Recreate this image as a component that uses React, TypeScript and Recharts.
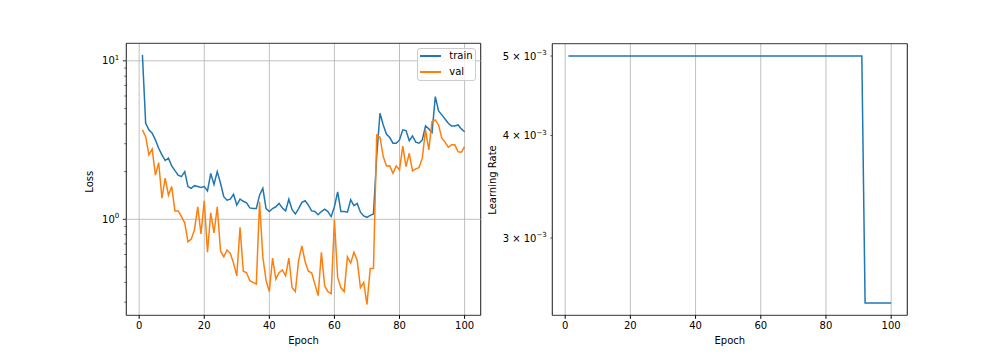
import React from 'react';
import {
  LineChart,
  Line,
  XAxis,
  YAxis,
  CartesianGrid,
  ReferenceLine,
  ReferenceArea,
  Legend,
} from 'recharts';

const epochs = [
  1, 2, 3, 4, 5, 6, 7, 8, 9, 10, 11, 12, 13, 14, 15, 16, 17, 18, 19, 20,
  21, 22, 23, 24, 25, 26, 27, 28, 29, 30, 31, 32, 33, 34, 35, 36, 37, 38, 39, 40,
  41, 42, 43, 44, 45, 46, 47, 48, 49, 50, 51, 52, 53, 54, 55, 56, 57, 58, 59, 60,
  61, 62, 63, 64, 65, 66, 67, 68, 69, 70, 71, 72, 73, 74, 75, 76, 77, 78, 79, 80,
  81, 82, 83, 84, 85, 86, 87, 88, 89, 90, 91, 92, 93, 94, 95, 96, 97, 98, 99, 100,
];

const trainLoss = [
  10.9, 4.04, 3.67, 3.49, 3.17, 2.81, 2.55, 2.35, 2.43, 2.17,
  2.03, 1.9, 1.86, 2.0, 1.61, 1.57, 1.63, 1.61, 1.59, 1.61,
  1.51, 1.95, 1.66, 2.0, 1.69, 1.39, 1.32, 1.34, 1.44, 1.23,
  1.34, 1.3, 1.27, 1.18, 1.17, 1.17, 1.42, 1.57, 1.17, 1.12,
  1.17, 1.2, 1.26, 1.18, 1.13, 1.34, 1.15, 1.08, 1.17, 1.28,
  1.31, 1.23, 1.13, 1.12, 1.07, 1.12, 1.16, 1.12, 1.04, 1.2,
  1.49, 1.12, 1.12, 1.11, 1.33, 1.22, 1.26, 1.11, 1.05, 1.03,
  1.06, 1.08, 2.5, 4.67, 3.94, 3.44, 3.28, 3.02, 3.02, 3.17,
  3.67, 3.63, 3.13, 3.36, 3.07, 3.02, 3.17, 3.88, 3.72, 3.53,
  5.95, 4.83, 4.56, 4.3, 4.04, 3.88, 3.88, 3.94, 3.72, 3.57,
];

const valLoss = [
  3.67, 3.32, 2.55, 2.77, 1.9, 2.28, 1.36, 1.82, 1.42, 1.61,
  1.13, 1.13, 1.04, 0.95, 0.72, 0.75, 0.86, 1.2, 0.81, 1.31,
  0.62, 1.1, 0.82, 1.2, 0.63, 0.58, 0.64, 0.61, 0.53, 0.44,
  0.89, 0.47, 0.46, 0.41, 0.4, 0.39, 1.29, 0.58, 0.41, 0.35,
  0.57, 0.42, 0.46, 0.48, 0.44, 0.57, 0.37, 0.35, 0.55, 0.68,
  0.54, 0.47, 0.46, 0.39, 0.33, 0.62, 0.38, 0.35, 0.34, 0.99,
  0.43, 0.37, 0.35, 0.58, 0.53, 0.62, 0.55, 0.37, 0.4, 0.29,
  0.49, 0.49, 3.4, 3.3, 2.49, 2.17, 2.18, 1.95, 2.17, 2.05,
  2.9, 2.15, 2.61, 2.02, 2.08, 2.12, 2.43, 3.67, 2.74, 4.14,
  4.24, 3.94, 3.25, 3.07, 2.85, 2.95, 2.95, 2.67, 2.65, 2.87,
];

const learningRate = [
  0.005, 0.005, 0.005, 0.005, 0.005, 0.005, 0.005, 0.005, 0.005, 0.005,
  0.005, 0.005, 0.005, 0.005, 0.005, 0.005, 0.005, 0.005, 0.005, 0.005,
  0.005, 0.005, 0.005, 0.005, 0.005, 0.005, 0.005, 0.005, 0.005, 0.005,
  0.005, 0.005, 0.005, 0.005, 0.005, 0.005, 0.005, 0.005, 0.005, 0.005,
  0.005, 0.005, 0.005, 0.005, 0.005, 0.005, 0.005, 0.005, 0.005, 0.005,
  0.005, 0.005, 0.005, 0.005, 0.005, 0.005, 0.005, 0.005, 0.005, 0.005,
  0.005, 0.005, 0.005, 0.005, 0.005, 0.005, 0.005, 0.005, 0.005, 0.005,
  0.005, 0.005, 0.005, 0.005, 0.005, 0.005, 0.005, 0.005, 0.005, 0.005,
  0.005, 0.005, 0.005, 0.005, 0.005, 0.005, 0.005, 0.005, 0.005, 0.005,
  0.005, 0.0025, 0.0025, 0.0025, 0.0025, 0.0025, 0.0025, 0.0025, 0.0025, 0.0025,
];

const seriesNames = ['train', 'val'];
const seriesColors = ['#1f77b4', '#ff7f0e'];

const xTicks = [0, 20, 40, 60, 80, 100];
const xDomain = [-3.95, 104.95];

const lossDomain = [0.248, 12.9];
const lossMajorTicks = [1, 10];
const lossMajorExponents = ['0', '1'];
const lossMinorTicks = [0.3, 0.4, 0.5, 0.6, 0.7, 0.8, 0.9, 2, 3, 4, 5, 6, 7, 8, 9];
const lossTicks = [...lossMinorTicks.slice(0, 7), 1, ...lossMinorTicks.slice(7), 10];

const lrDomain = [0.002415, 0.005176];
const lrTicks = [0.003, 0.004, 0.005];
const lrMantissas = ['3', '4', '5'];
const lrExponent = '\u22123';

const lossData = epochs.map((e, i) => ({ epoch: e, train: trainLoss[i], val: valLoss[i] }));
const lrData = epochs.map((e, i) => ({ epoch: e, lr: learningRate[i] }));

const FONT = "'DejaVu Sans', sans-serif";
const GRID = '#b0b0b0';

const LossTick = (props: any) => {
  const { x, y, payload } = props;
  const v = payload.value;
  const mi = lossMajorTicks.indexOf(v);
  const major = mi >= 0;
  return (
    <g>
      <line x1={x - (major ? 3.5 : 2)} x2={x} y1={y} y2={y} stroke="#000" strokeWidth={major ? 0.8 : 0.6} />
      {major && (
        <text x={x - 7} y={y + 3.5} textAnchor="end" fontSize={10} fill="#000" fontFamily={FONT}>
          10
          <tspan dy={-4.5} fontSize={7}>
            {lossMajorExponents[mi]}
          </tspan>
        </text>
      )}
    </g>
  );
};

const LrTick = (props: any) => {
  const { x, y, payload } = props;
  const i = lrTicks.indexOf(payload.value);
  return (
    <g>
      <line x1={x - 2} x2={x} y1={y} y2={y} stroke="#000" strokeWidth={0.6} />
      <text x={x - 5.5} y={y + 3.5} textAnchor="end" fontSize={10} fill="#000" fontFamily={FONT}>
        {`${lrMantissas[i]} \u00d7 10`}
        <tspan dy={-4.5} fontSize={7}>
          {lrExponent}
        </tspan>
      </text>
    </g>
  );
};

const makeXLabel = (text: string) => (props: any) => {
  const vb = props.viewBox || {};
  const cx = (vb.x ?? 0) + (vb.width ?? 0) / 2;
  const cy = (vb.y ?? 0) + 24.7;
  return (
    <text x={cx} y={cy} textAnchor="middle" dominantBaseline="central" fontSize={10} fill="#000" fontFamily={FONT}>
      {text}
    </text>
  );
};

const makeYLabel = (text: string, dx: number, dy: number) => (props: any) => {
  const vb = props.viewBox || {};
  const cx = (vb.x ?? 0) + dx;
  const cy = (vb.y ?? 0) + (vb.height ?? 0) / 2 + dy;
  return (
    <text
      x={cx}
      y={cy}
      transform={`rotate(-90, ${cx}, ${cy})`}
      textAnchor="middle"
      dominantBaseline="central"
      fontSize={10}
      fill="#000"
      fontFamily={FONT}
    >
      {text}
    </text>
  );
};

const LegendBox = () => (
  <div
    style={{
      position: 'relative',
      width: 59,
      height: 33,
      boxSizing: 'border-box',
      border: '1px solid #cccccc',
      borderRadius: 3,
      background: 'rgba(255,255,255,0.8)',
      fontFamily: FONT,
      fontSize: 10,
      color: '#000',
    }}
  >
    {seriesNames.map((name, i) => (
      <React.Fragment key={name}>
        <div
          style={{
            position: 'absolute',
            left: 2,
            top: 7.5 + i * 16 - 0.75,
            width: 21,
            height: 1.5,
            background: seriesColors[i],
          }}
        />
        <div
          style={{
            position: 'absolute',
            left: 31,
            top: 7.5 + i * 16 - 6.5,
            lineHeight: '12px',
            whiteSpace: 'nowrap',
          }}
        >
          {name}
        </div>
      </React.Fragment>
    ))}
  </div>
);

export default function App() {
  return (
    <div style={{ position: 'relative', width: 1000, height: 352, fontFamily: FONT }}>
      <div style={{ position: 'absolute', left: 0, top: 0 }}>
        <LineChart
          width={492}
          height={352}
          data={lossData}
          margin={{ top: 35.3, right: 19.3, bottom: 14.7, left: 58.3 }}
        >
          <CartesianGrid horizontal={false} vertical stroke={GRID} strokeWidth={0.8} />
          <ReferenceLine y={1} stroke={GRID} strokeWidth={0.8} />
          <ReferenceLine y={10} stroke={GRID} strokeWidth={0.8} />
          <XAxis
            dataKey="epoch"
            type="number"
            domain={xDomain}
            allowDataOverflow
            ticks={xTicks}
            interval={0}
            height={30}
            axisLine={false}
            stroke="#000"
            tickSize={3.5}
            tickMargin={3.5}
            tick={{ fill: '#000', fontSize: 10, fontFamily: FONT }}
            label={makeXLabel('Epoch')}
          />
          <YAxis
            type="number"
            scale="log"
            domain={lossDomain}
            allowDataOverflow
            ticks={lossTicks}
            interval={0}
            width={60}
            axisLine={false}
            tickLine={false}
            tickSize={0}
            tickMargin={0}
            tick={<LossTick />}
            label={makeYLabel('Loss', 23.4, 2.4)}
          />
          <Line
            type="linear"
            dataKey="train"
            name={seriesNames[0]}
            stroke={seriesColors[0]}
            strokeWidth={1.5}
            dot={false}
            isAnimationActive={false}
          />
          <Line
            type="linear"
            dataKey="val"
            name={seriesNames[1]}
            stroke={seriesColors[1]}
            strokeWidth={1.5}
            dot={false}
            isAnimationActive={false}
          />
          <ReferenceArea
            x1={xDomain[0]}
            x2={xDomain[1]}
            y1={lossDomain[0]}
            y2={lossDomain[1]}
            fill="none"
            stroke="#000"
            strokeWidth={0.8}
          />
          <Legend
            layout="horizontal"
            verticalAlign="middle"
            align="center"
            content={<LegendBox />}
            wrapperStyle={{ left: 409.3, top: 39.7, width: 59, height: 33 }}
          />
        </LineChart>
      </div>
      <div style={{ position: 'absolute', left: 472, top: 0 }}>
        <LineChart
          width={520}
          height={352}
          data={lrData}
          margin={{ top: 35.7, right: 92.7, bottom: 14.7, left: 0.3 }}
        >
          <CartesianGrid horizontal={false} vertical stroke={GRID} strokeWidth={0.8} />
          <XAxis
            dataKey="epoch"
            type="number"
            domain={xDomain}
            allowDataOverflow
            ticks={xTicks}
            interval={0}
            height={30}
            axisLine={false}
            stroke="#000"
            tickSize={3.5}
            tickMargin={3.5}
            tick={{ fill: '#000', fontSize: 10, fontFamily: FONT }}
            label={makeXLabel('Epoch')}
          />
          <YAxis
            type="number"
            scale="log"
            domain={lrDomain}
            allowDataOverflow
            ticks={lrTicks}
            interval={0}
            width={72}
            axisLine={false}
            tickLine={false}
            tickSize={0}
            tickMargin={0}
            tick={<LrTick />}
            label={makeYLabel('Learning Rate', 12.2, 0.5)}
          />
          <Line
            type="linear"
            dataKey="lr"
            stroke={seriesColors[0]}
            strokeWidth={1.5}
            dot={false}
            isAnimationActive={false}
          />
          <ReferenceArea
            x1={xDomain[0]}
            x2={xDomain[1]}
            y1={lrDomain[0]}
            y2={lrDomain[1]}
            fill="none"
            stroke="#000"
            strokeWidth={0.8}
          />
        </LineChart>
      </div>
    </div>
  );
}
